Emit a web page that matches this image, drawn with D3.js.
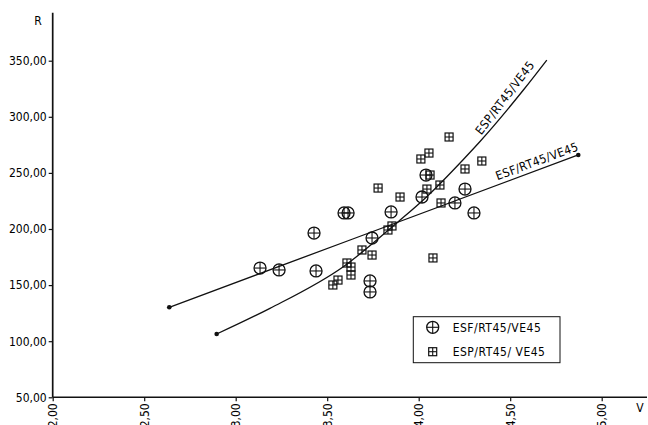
<!DOCTYPE html>
<html>
<head>
<meta charset="utf-8">
<script src="https://cdn.jsdelivr.net/npm/d3@7"></script>
<style>
  body { margin: 0; background: #fff; }
  text { font-family: "DejaVu Sans Condensed", "DejaVu Sans", sans-serif; fill: #000; }
</style>
</head>
<body>
<div id="chart-area"></div>
<script>
// values
var vTicks = [2, 2.5, 3, 3.5, 4, 4.5, 5];
var rTicks = [50, 100, 150, 200, 250, 300, 350];

// ESF/RT45/VE45 measurements (circles)
var esfV = [3.133, 3.237, 3.439, 3.428, 3.592, 3.614, 3.849, 3.745, 3.734, 3.734, 4.018, 4.040, 4.253, 4.198, 4.302];
var esfR = [165.2, 163.5, 162.6, 196.4, 214.3, 214.3, 215.2, 192.0, 153.7, 143.9, 228.5, 248.1, 235.6, 223.2, 214.3];

// ESP/RT45/VE45 measurements (squares)
var espV = [4.166, 4.056, 4.012, 4.345, 4.253, 4.062, 4.116, 4.045, 3.778, 3.898, 4.122, 3.854, 3.832, 3.690, 3.745, 4.078, 3.608, 3.630, 3.630, 3.559, 3.531];
var espR = [282.0, 267.7, 262.4, 260.6, 253.5, 248.1, 239.2, 235.6, 236.5, 228.5, 223.2, 202.7, 199.1, 181.3, 176.8, 174.2, 169.7, 166.1, 159.0, 154.5, 150.1];

// fitted curves, points
var esfFitV = [2.637, 3.625, 4.872];
var esfFitR = [130.2, 190.2, 266.0];
var espFitV = [2.896, 3.187, 3.588, 3.888, 4.044, 4.244, 4.335, 4.572, 4.700];
var espFitR = [106.4, 129.3, 166.4, 206.5, 228.8, 262.0, 278.0, 323.9, 350.6];

var labels = ["ESF/RT45/VE45", "ESP/RT45/ VE45"];

var fmt = (d) => d3.format(".2f")(d).replace(".", ",");

var svg = d3.select("#chart-area")
    .append("svg")
    .attr("width", 648)
    .attr("height", 425);

var x = d3.scaleLinear().domain([2, 5]).range([52.7, 601.7]);
var y = d3.scaleLinear().domain([50, 350]).range([397.3, 60.7]);

// axes
var gx = svg.append("g").attr("transform", "translate(0," + y(50) + ")")
    .call(d3.axisBottom(x).tickValues(vTicks).tickSize(4).tickFormat(fmt));
gx.select(".domain").remove();
gx.selectAll("text")
    .attr("transform", "rotate(-90)")
    .attr("x", -6).attr("y", 0).attr("dy", "0.35em")
    .style("text-anchor", "end")
    .style("font-size", "12px");

var gy = svg.append("g").attr("transform", "translate(" + x(2) + ",0)")
    .call(d3.axisLeft(y).tickValues(rTicks).tickSize(4).tickPadding(2).tickFormat(fmt));
gy.select(".domain").remove();
gy.selectAll("text").style("font-size", "12px");
svg.selectAll(".tick line").attr("stroke", "#111").attr("stroke-width", 1.2);

svg.append("line")
    .attr("x1", x(2)).attr("x2", 647)
    .attr("y1", y(50)).attr("y2", y(50))
    .attr("stroke", "#111").attr("stroke-width", 1.4);
svg.append("line")
    .attr("x1", x(2)).attr("x2", x(2))
    .attr("y1", y(50)).attr("y2", 12.7)
    .attr("stroke", "#111").attr("stroke-width", 1.7);

svg.append("text").attr("x", 38).attr("y", 25).attr("text-anchor", "middle")
    .style("font-size", "12px").text("R");
svg.append("text").attr("x", 640).attr("y", 412).attr("text-anchor", "middle")
    .style("font-size", "12px").text("V");

// fit lines
var line = d3.line().x((d) => x(d[0])).y((d) => y(d[1]));
var esfFit = esfFitV.map((v, i) => [v, esfFitR[i]]);
var espFit = espFitV.map((v, i) => [v, espFitR[i]]);

svg.append("path").datum(esfFit)
    .attr("d", line)
    .attr("fill", "none").attr("stroke", "#111").attr("stroke-width", 1.3);
svg.append("path").datum(espFit)
    .attr("d", line.curve(d3.curveMonotoneX))
    .attr("fill", "none").attr("stroke", "#111").attr("stroke-width", 1.3);

var ends = [esfFit[0], esfFit[esfFit.length - 1], espFit[0]];
svg.selectAll(".end").data(ends).enter()
    .append("circle")
        .attr("cx", (d) => x(d[0]))
        .attr("cy", (d) => y(d[1]))
        .attr("r", 2.3)
        .attr("fill", "#111");

// curve labels
var la = [4.42, esfFitR[0] + (4.42 - esfFitV[0]) * (esfFitR[2] - esfFitR[0]) / (esfFitV[2] - esfFitV[0])];
svg.append("text")
    .attr("transform", "translate(" + (x(la[0]) + 2) + "," + (y(la[1]) - 5.5) + ") rotate(-20.4)")
    .style("font-size", "12px").style("letter-spacing", "0.4px")
    .text(labels[0]);
svg.append("text")
    .attr("transform", "translate(" + (x(4.336) + 1) + "," + (y(278) - 6) + ") rotate(-52.5)")
    .style("font-size", "12px").style("letter-spacing", "0.5px")
    .text(labels[1].replace(" ", ""));

// markers
function circleMark(g, r) {
    g.append("circle").attr("r", r).attr("fill", "none").attr("stroke", "#111").attr("stroke-width", 1.3);
    g.append("line").attr("x1", -r).attr("x2", r).attr("stroke", "#111").attr("stroke-width", 1.1);
    g.append("line").attr("y1", -r).attr("y2", r).attr("stroke", "#111").attr("stroke-width", 1.1);
}
function squareMark(g, s) {
    g.append("rect").attr("x", -s).attr("y", -s).attr("width", 2 * s).attr("height", 2 * s)
        .attr("fill", "none").attr("stroke", "#111").attr("stroke-width", 1.2);
    g.append("line").attr("x1", -s).attr("x2", s).attr("stroke", "#111").attr("stroke-width", 1.1);
    g.append("line").attr("y1", -s).attr("y2", s).attr("stroke", "#111").attr("stroke-width", 1.1);
}

var esfData = esfV.map((v, i) => [v, esfR[i]]);
var espData = espV.map((v, i) => [v, espR[i]]);

svg.selectAll(".esp").data(espData).enter()
    .append("g")
        .attr("class", "esp")
        .attr("transform", (d) => "translate(" + x(d[0]) + "," + y(d[1]) + ")")
        .each(function () { squareMark(d3.select(this), 4); });

svg.selectAll(".esf").data(esfData).enter()
    .append("g")
        .attr("class", "esf")
        .attr("transform", (d) => "translate(" + x(d[0]) + "," + y(d[1]) + ")")
        .each(function () { circleMark(d3.select(this), 6); });

// legend
var lg = svg.append("g");
lg.append("rect")
    .attr("x", 413.3).attr("y", 316.7).attr("width", 146.7).attr("height", 46)
    .attr("fill", "#fff").attr("stroke", "#111").attr("stroke-width", 1);
circleMark(lg.append("g").attr("transform", "translate(432.7,327.3)"), 6);
squareMark(lg.append("g").attr("transform", "translate(432.7,351.7)"), 4);
lg.selectAll(".lt").data(labels).enter()
    .append("text")
        .attr("x", 452.7)
        .attr("y", (d, i) => 331.5 + i * 24.4)
        .style("font-size", "12px").style("letter-spacing", "0.5px")
        .text((d) => d);
</script>
</body>
</html>
